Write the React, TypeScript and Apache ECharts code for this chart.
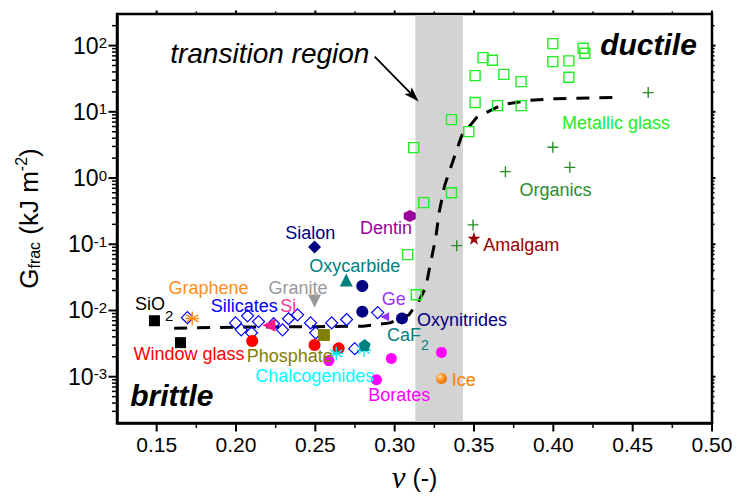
import React, { useEffect, useRef } from 'react';
import * as echarts from 'echarts';

const FONT = '"Liberation Sans", Arial, Helvetica, sans-serif';
const SERIF = '"Liberation Serif", "Times New Roman", serif';

// axis ranges
const X_MIN = 0.125;
const X_MAX = 0.5;
const Y_MIN = 2e-4;
const Y_MAX = 300;

// tick positions
const xMajorTicks = [0.15, 0.2, 0.25, 0.3, 0.35, 0.4, 0.45, 0.5];
const xMinorTicks = [0.175, 0.225, 0.275, 0.325, 0.375, 0.425, 0.475];
const yMajorTicks = [1e-3, 1e-2, 1e-1, 1, 10, 100];
const yMinorTicks = [
  3e-4, 4e-4, 5e-4, 6e-4, 7e-4, 8e-4, 9e-4,
  2e-3, 3e-3, 4e-3, 5e-3, 6e-3, 7e-3, 8e-3, 9e-3,
  0.02, 0.03, 0.04, 0.05, 0.06, 0.07, 0.08, 0.09,
  0.2, 0.3, 0.4, 0.5, 0.6, 0.7, 0.8, 0.9,
  2, 3, 4, 5, 6, 7, 8, 9,
  20, 30, 40, 50, 60, 70, 80, 90,
  200,
];

// transition band (Poisson's ratio range)
const bandNu = [0.313, 0.343];

// dashed guide curve
const curveNu = [0.161, 0.2, 0.25, 0.28, 0.297, 0.309, 0.315, 0.3196, 0.322, 0.3259, 0.328, 0.3315, 0.3366, 0.3423, 0.3517, 0.3675, 0.3839, 0.4003, 0.4375];
const curveG = [5.4e-3, 5.6e-3, 5.7e-3, 5.8e-3, 6.5e-3, 8.6e-3, 0.0136, 0.0222, 0.044, 0.126, 0.3, 0.77, 1.77, 4.4, 8.2, 12.8, 14.8, 15.8, 16.4];

// materials: [nu, Gfrac]
const metallicGlass = [
  [0.312, 2.88], [0.3183, 0.425], [0.3082, 0.0697], [0.3137, 0.0173], [0.3358, 7.62],
  [0.3358, 0.601], [0.3467, 5.02], [0.3507, 35.2], [0.3507, 13.8], [0.3557, 65.9],
  [0.3616, 60], [0.3648, 12.4], [0.3688, 36.8], [0.3797, 28.6], [0.3797, 12.4],
  [0.3997, 107], [0.3997, 57.3], [0.4098, 58.7], [0.4098, 33.2], [0.4188, 91], [0.4199, 76.5],
];
const organics = [[0.3494, 0.196], [0.3391, 0.0953], [0.3698, 1.25], [0.3997, 2.91], [0.4104, 1.45], [0.4598, 19.5]];
const amalgam = [[0.35, 0.123]];
const dentin = [[0.3095, 0.267]];
const sialon = [[0.2495, 0.091]];
const oxycarbide = [[0.2695, 0.0289]];
const granite = [[0.2495, 0.0139]];
const oxynitrides = [[0.2796, 0.0234], [0.2796, 0.0096], [0.3046, 0.0076]];
const germanium = [[0.2937, 8.05e-3]];
const silicon = [[0.2207, 6.0e-3]];
const graphene = [[0.1724, 7.6e-3]];
const silica = [[0.1486, 7.0e-3], [0.165, 3.27e-3]];
const silicates = [
  [0.1694, 7.8e-3], [0.1997, 6.5e-3], [0.2033, 5.1e-3], [0.2073, 8.3e-3], [0.2098, 4.6e-3],
  [0.2142, 6.8e-3], [0.2237, 6.3e-3], [0.2293, 5.1e-3], [0.2331, 7.5e-3], [0.2388, 8.6e-3],
  [0.247, 6.5e-3], [0.2502, 4.6e-3], [0.2603, 6.5e-3], [0.2697, 7.3e-3], [0.2893, 9.3e-3], [0.2748, 2.65e-3],
];
const phosphate = [[0.2554, 4.26e-3]];
const windowGlass = [[0.2102, 3.46e-3], [0.2495, 3.01e-3], [0.2647, 2.68e-3]];
const chalcogenides = [[0.2632, 2.25e-3], [0.2806, 2.53e-3]];
const borates = [[0.2585, 1.75e-3], [0.2885, 9.0e-4], [0.2979, 1.89e-3], [0.3295, 2.33e-3]];
const ice = [[0.3295, 9.4e-4]];
const caf2 = [[0.2811, 3.0e-3]];

// arrow for "transition region": [nuStart, gStart, nuEnd, gEnd]
const arrowSegment = [0.2874, 68.2, 0.3151, 14.3];

// text annotations anchored at (nu, G) left-middle
const annotations = [
  { text: 'transition region', nu: 0.1582, g: 75.7, color: '#000000', size: 28, italic: true, bold: false },
  { text: 'ductile', nu: 0.4292, g: 105, color: '#000000', size: 30, italic: true, bold: true },
  { text: 'brittle', nu: 0.133, g: 5.16e-4, color: '#000000', size: 30, italic: true, bold: true },
  { text: 'Metallic glass', nu: 0.4051, g: 6.7, color: '#22ee22' },
  { text: 'Organics', nu: 0.3783, g: 0.668, color: '#2e8b2e' },
  { text: 'Amalgam', nu: 0.3555, g: 0.0986, color: '#990000' },
  { text: 'Dentin', nu: 0.2779, g: 0.175, color: '#990099' },
  { text: 'Sialon', nu: 0.2307, g: 0.147, color: '#000080' },
  { text: 'Oxycarbide', nu: 0.2458, g: 0.0475, color: '#008080' },
  { text: 'Granite', nu: 0.2201, g: 0.0218, color: '#999999' },
  { text: 'Ge', nu: 0.2916, g: 0.0148, color: '#9933ff' },
  { text: 'Oxynitrides', nu: 0.3137, g: 7.26e-3, color: '#000080' },
  { text: '{t|CaF}{ts|2}', nu: 0.2948, g: 4.27e-3, color: '#008080' },
  { text: 'Silicates', nu: 0.1838, g: 0.0116, color: '#0000ff' },
  { text: 'Si', nu: 0.2275, g: 0.0116, color: '#ff3399' },
  { text: 'Graphene', nu: 0.1571, g: 0.0215, color: '#ff8c1a' },
  { text: '{k|SiO}{ks|2}', nu: 0.1361, g: 0.01245, color: '#000000' },
  { text: 'Window glass', nu: 0.1351, g: 2.19e-3, color: '#ff0000' },
  { text: 'Phosphate', nu: 0.2065, g: 2.06e-3, color: '#808000' },
  { text: 'Chalcogenides', nu: 0.2118, g: 1.04e-3, color: '#00ffff' },
  { text: 'Borates', nu: 0.283, g: 5.35e-4, color: '#ff00ff' },
  { text: 'Ice', nu: 0.3357, g: 9.0e-4, color: '#ff8000' },
];

const PLUS = 'path://M0,5L10,5M5,0L5,10';
const ASTER = 'path://M5,0L5,10M0.67,2.5L9.33,7.5M0.67,7.5L9.33,2.5M0,5L10,5';
const HEX = 'path://M5,0L9.33,2.5L9.33,7.5L5,10L0.67,7.5L0.67,2.5Z';
const PENT = 'path://M5,0L10,3.8L8.1,10L1.9,10L0,3.8Z';
const STAR = 'path://M5,0L6.18,3.62L10,3.62L6.91,5.86L8.09,9.5L5,7.25L1.91,9.5L3.09,5.86L0,3.62L3.82,3.62Z';

function scatter(name: string, data: number[][], symbol: string, size: number, item: any, extra: any = {}) {
  return {
    name,
    type: 'scatter',
    data,
    symbol,
    symbolSize: size,
    itemStyle: { opacity: 1, ...item },
    z: 4,
    silent: true,
    ...extra,
  };
}

export default function App() {
  const ref = useRef<HTMLDivElement>(null);

  useEffect(() => {
    if (!ref.current) return;
    const chart = echarts.init(ref.current, undefined, { renderer: 'svg' });

    const tickData: number[][] = [];
    yMajorTicks.forEach((v) => tickData.push([X_MIN, v, 0, 1]));
    yMinorTicks.forEach((v) => tickData.push([X_MIN, v, 0, 0]));
    xMajorTicks.forEach((v) => tickData.push([v, Y_MIN, 1, 1]));
    xMinorTicks.forEach((v) => tickData.push([v, Y_MIN, 1, 0]));

    const option: any = {
      animation: false,
      backgroundColor: '#ffffff',
      grid: {
        left: 117,
        right: 26,
        top: 14,
        bottom: 77,
        show: true,
        borderColor: '#000',
        borderWidth: 2.5,
        backgroundColor: 'transparent',
        containLabel: false,
        outerBoundsMode: 'none',
      },
      xAxis: {
        type: 'value',
        min: X_MIN,
        max: X_MAX,
        interval: 0.025,
        z: 10,
        name: '{n|ν} {p|(-)}',
        nameLocation: 'middle',
        nameGap: 39,
        nameMoveOverlap: false,
        nameTextStyle: {
          fontFamily: FONT,
          fontSize: 25,
          color: '#000',
          rich: {
            n: { fontFamily: SERIF, fontStyle: 'italic', fontSize: 31, color: '#000' },
            p: { fontFamily: FONT, fontSize: 25, color: '#000' },
          },
        },
        axisLine: { show: true, lineStyle: { color: '#000', width: 2.5 } },
        axisTick: { show: false },
        splitLine: { show: false },
        axisLabel: {
          fontFamily: FONT,
          fontSize: 21,
          color: '#000',
          margin: 11,
          formatter: (v: number) => {
            const k = Math.round(v * 1000);
            return k % 50 === 0 ? (k / 1000).toFixed(2) : '';
          },
        },
      },
      yAxis: {
        type: 'log',
        logBase: 10,
        min: Y_MIN,
        max: Y_MAX,
        z: 10,
        name: '{m|G}{sub|frac}{m| (kJ m}{sup|-2}{m|)}',
        nameLocation: 'middle',
        nameRotate: 90,
        nameGap: 73,
        nameMoveOverlap: false,
        nameTextStyle: {
          fontFamily: FONT,
          fontSize: 26,
          color: '#000',
          rich: {
            m: { fontFamily: FONT, fontSize: 26, color: '#000' },
            sub: { fontFamily: FONT, fontSize: 16, color: '#000', padding: [12, 0, 0, 0] },
            sup: { fontFamily: FONT, fontSize: 16, color: '#000', padding: [0, 0, 15, 0] },
          },
        },
        axisLine: { show: true, lineStyle: { color: '#000', width: 2.5 } },
        axisTick: { show: false },
        splitLine: { show: false },
        axisLabel: {
          margin: 10,
          color: '#000',
          formatter: (v: number) => {
            const e = Math.log10(v);
            const r = Math.round(e);
            if (Math.abs(e - r) > 1e-6) return '';
            return `{b|10}{s|${r}}`;
          },
          rich: {
            b: { fontFamily: FONT, fontSize: 23, color: '#000' },
            s: { fontFamily: FONT, fontSize: 15, color: '#000', padding: [0, 0, 6, 0] },
          },
        },
      },
      series: [
        {
          type: 'custom',
          name: 'band',
          silent: true,
          clip: false,
          z: 1,
          encode: { x: [0, 2], y: [1, 3] },
          data: [[bandNu[0], Y_MIN, bandNu[1], Y_MAX]],
          renderItem: (params: any, api: any) => {
            const a = api.coord([api.value(0), api.value(3)]);
            const b = api.coord([api.value(2), api.value(1)]);
            return {
              type: 'rect',
              shape: { x: a[0], y: a[1] + 1.3, width: b[0] - a[0], height: b[1] - a[1] - 2.6 },
              style: { fill: '#d3d3d3' },
            };
          },
        },
        {
          type: 'line',
          name: 'trend',
          data: curveNu.map((x, i) => [x, curveG[i]]),
          showSymbol: false,
          symbol: 'none',
          silent: true,
          z: 3,
          lineStyle: { color: '#000', width: 3, type: [13, 10], opacity: 1 },
        },
        scatter('Germanium', germanium, 'triangle', 9, { color: '#9933ff' }, { symbolRotate: 90 }),
        scatter('Silicates', silicates, 'diamond', 12, { color: 'rgba(0,0,0,0)', borderColor: '#0000ff', borderWidth: 1.2 }),
        scatter('Metallic glass', metallicGlass, 'rect', 10, { color: 'rgba(0,0,0,0)', borderColor: '#22ee22', borderWidth: 1.4 }),
        scatter('Organics', organics, PLUS, 11, { color: 'none', borderColor: '#2e8b2e', borderWidth: 1.4 }),
        scatter('Amalgam', amalgam, STAR, 13, { color: '#990000' }),
        scatter('Dentin', dentin, HEX, 12, { color: '#990099' }),
        scatter('Sialon', sialon, 'diamond', 13, { color: '#000080' }),
        scatter('Oxycarbide', oxycarbide, 'triangle', 13, { color: '#008080' }),
        scatter('Granite', granite, 'triangle', 13, { color: '#999999' }, { symbolRotate: 180 }),
        scatter('Oxynitrides', oxynitrides, 'circle', 12, { color: '#000080' }),
        scatter('Si', silicon, 'triangle', 13, { color: '#ff1a8c' }, { symbolRotate: 90 }),
        scatter('Graphene', graphene, ASTER, 14, { color: 'none', borderColor: '#ff8c1a', borderWidth: 1.5 }),
        scatter('SiO2', silica, 'rect', 11, { color: '#000' }),
        scatter('Phosphate', phosphate, 'rect', 12, { color: '#808000' }),
        scatter('Window glass', windowGlass, 'circle', 12, { color: '#ff0000' }),
        scatter('Chalcogenides', chalcogenides, ASTER, 14, { color: 'none', borderColor: '#00e5ee', borderWidth: 1.3 }),
        scatter('Borates', borates, 'circle', 11, { color: '#ff00ff' }),
        scatter('Ice', ice, 'circle', 11, {
          color: {
            type: 'radial', x: 0.35, y: 0.35, r: 0.75,
            colorStops: [{ offset: 0, color: '#ffe0b0' }, { offset: 0.5, color: '#ff9020' }, { offset: 1, color: '#e06800' }],
          },
        }),
        scatter('CaF2', caf2, PENT, 12, { color: '#008080' }),
        {
          type: 'custom',
          name: 'arrow',
          silent: true,
          clip: false,
          z: 5,
          encode: { x: [0, 2], y: [1, 3] },
          data: [arrowSegment],
          renderItem: (params: any, api: any) => {
            const s = api.coord([api.value(0), api.value(1)]);
            const e = api.coord([api.value(2), api.value(3)]);
            const dx = e[0] - s[0];
            const dy = e[1] - s[1];
            const L = Math.hypot(dx, dy);
            const ux = dx / L;
            const uy = dy / L;
            const head = 15;
            const hw = 5;
            const bx = e[0] - ux * head;
            const by = e[1] - uy * head;
            return {
              type: 'group',
              children: [
                { type: 'line', shape: { x1: s[0], y1: s[1], x2: bx + ux * 3, y2: by + uy * 3 }, style: { stroke: '#000', lineWidth: 1.8 } },
                {
                  type: 'polygon',
                  shape: { points: [[e[0], e[1]], [bx - uy * hw, by + ux * hw], [bx + ux * 3, by + uy * 3], [bx + uy * hw, by - ux * hw]] },
                  style: { fill: '#000' },
                },
              ],
            };
          },
        },
        {
          type: 'scatter',
          name: 'labels',
          silent: true,
          z: 6,
          symbolSize: 1,
          itemStyle: { color: 'rgba(0,0,0,0)', opacity: 1 },
          data: annotations.map((a) => ({
            name: a.text,
            value: [a.nu, a.g],
            label: {
              color: a.color,
              fontSize: a.size || 18,
              fontStyle: a.italic ? 'italic' : 'normal',
              fontWeight: a.bold ? 'bold' : 'normal',
            },
          })),
          label: {
            show: true,
            position: 'right',
            distance: 0,
            opacity: 1,
            fontFamily: FONT,
            fontSize: 18,
            formatter: (p: any) => p.name,
            rich: {
              k: { fontFamily: FONT, fontSize: 18, color: '#000000' },
              ks: { fontFamily: FONT, fontSize: 15, color: '#000000', padding: [23, 0, 0, 0] },
              t: { fontFamily: FONT, fontSize: 18, color: '#008080' },
              ts: { fontFamily: FONT, fontSize: 14, color: '#008080', padding: [21, 0, 0, 0] },
            },
          },
        },
        {
          type: 'custom',
          name: 'ticks',
          silent: true,
          clip: false,
          z: 11,
          encode: { x: 0, y: 1 },
          data: tickData,
          renderItem: (params: any, api: any) => {
            const kind = api.value(2);
            const major = api.value(3) === 1;
            const len = major ? 8.5 : 5;
            const mlen = major ? 3.5 : 2.5;
            const lw = major ? 2 : 1.5;
            const st = { stroke: '#000', lineWidth: lw };
            if (kind === 0) {
              const l = api.coord([X_MIN, api.value(1)]);
              const r = api.coord([X_MAX, api.value(1)]);
              return {
                type: 'group',
                children: [
                  { type: 'line', shape: { x1: l[0] - len, y1: l[1], x2: l[0], y2: l[1] }, style: st },
                  { type: 'line', shape: { x1: r[0], y1: r[1], x2: r[0] + mlen, y2: r[1] }, style: st },
                ],
              };
            }
            const b = api.coord([api.value(0), Y_MIN]);
            const t = api.coord([api.value(0), Y_MAX]);
            return {
              type: 'group',
              children: [
                { type: 'line', shape: { x1: b[0], y1: b[1], x2: b[0], y2: b[1] + len }, style: st },
                { type: 'line', shape: { x1: t[0], y1: t[1], x2: t[0], y2: t[1] - mlen }, style: st },
              ],
            };
          },
        },
      ],
    };

    chart.setOption(option);
    return () => chart.dispose();
  }, []);

  return (
    <div
      ref={ref}
      style={{ position: 'absolute', left: 0, top: 0, width: 738, height: 500, background: '#fff' }}
    />
  );
}
